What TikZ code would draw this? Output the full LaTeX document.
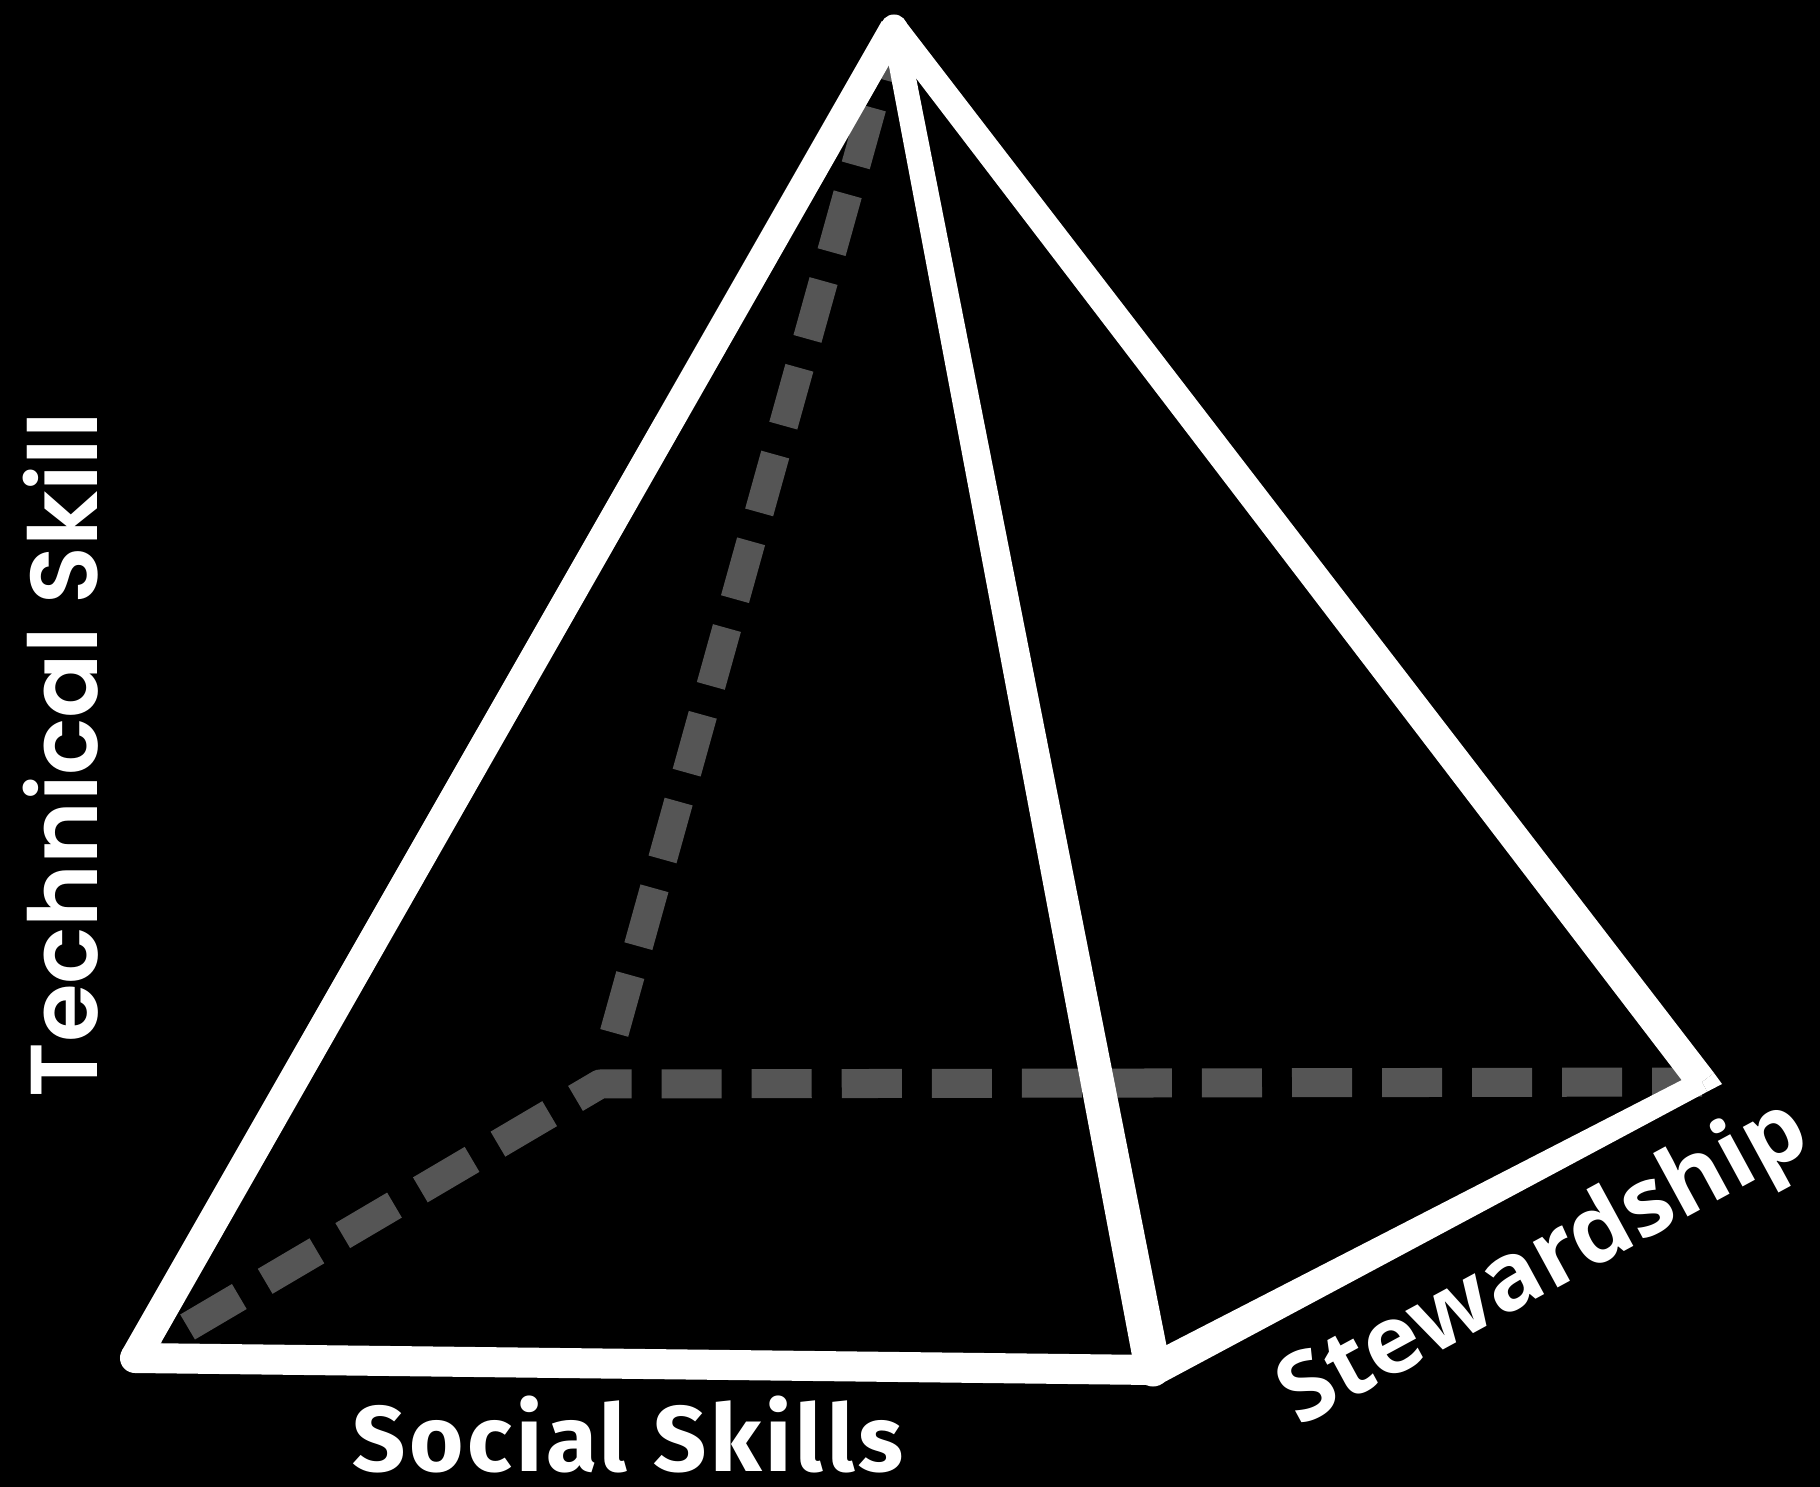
\documentclass[tikz,border=0pt]{standalone}
\usepackage{fontspec}
\usetikzlibrary{calc}
\newfontfamily\techfont{Poppins SemiBold}
\newfontfamily\socialfont{Fira Sans}
\newfontfamily\stewfont{Open Sans}
\definecolor{hiddengray}{HTML}{555555}
\tikzset{
  hiddenedge/.style={draw=hiddengray, line width=0.29cm, dash pattern=on 0.6cm off 0.3cm, line join=round},
  lbl/.style={text=white, inner sep=0pt},
}
\newcommand\taperedge[4]{%
  \fill[white] ($(#1)!#3!90:(#2)$) -- ($(#2)!#4!-90:(#1)$) -- ($(#2)!#4!90:(#1)$) -- ($(#1)!#3!-90:(#2)$) -- cycle;}
\begin{document}
\begin{tikzpicture}[x=0.01cm,y=0.01cm]
\fill[black] (0,0) rectangle (1820,1487);
\useasboundingbox (0,0) rectangle (1820,1487);
% vertices
\coordinate (A) at (894,1459);
\coordinate (BL) at (135,129);
\coordinate (BM) at (1153,117);
\coordinate (R) at (1702,405);
\coordinate (Rtip) at (1722,403);
\coordinate (H) at (600,403);
% hidden edges
\draw[hiddenedge, dash phase=0.29cm] (BL) -- (H) -- (R);
\draw[hiddenedge, dash phase=0.6cm] ($(H)!0.23cm!(A)$) -- (A);
% visible edges
\taperedge{A}{BL}{0.14cm}{0.15cm}
\taperedge{BL}{BM}{0.15cm}{0.15cm}
\taperedge{A}{BM}{0.12cm}{0.18cm}
\taperedge{A}{R}{0.13cm}{0.15cm}
\taperedge{BM}{R}{0.16cm}{0.11cm}
\fill[white] (A) circle (0.135cm);
\fill[white] (BL) circle (0.15cm);
\fill[white] (BM) circle (0.165cm);
\fill[white] (R) -- ($(R)!0.15cm!-90:(A)$) -- (Rtip) -- ($(R)!0.11cm!90:(BM)$) -- cycle;
% labels
\node[lbl, rotate=90, anchor=base] (tech) at (97,732) {\techfont\fontsize{27}{29}\selectfont Technical Skill};
\node[lbl, anchor=base] (social) at (628,15) {\socialfont\bfseries\fontsize{26.5}{28}\selectfont\addfontfeature{LetterSpace=4}Social Skills};
\node[lbl, rotate=28.5, anchor=base] (stew) at (1557,199) {\stewfont\bfseries\fontsize{27}{29}\selectfont Stewardship};
\end{tikzpicture}
\end{document}
